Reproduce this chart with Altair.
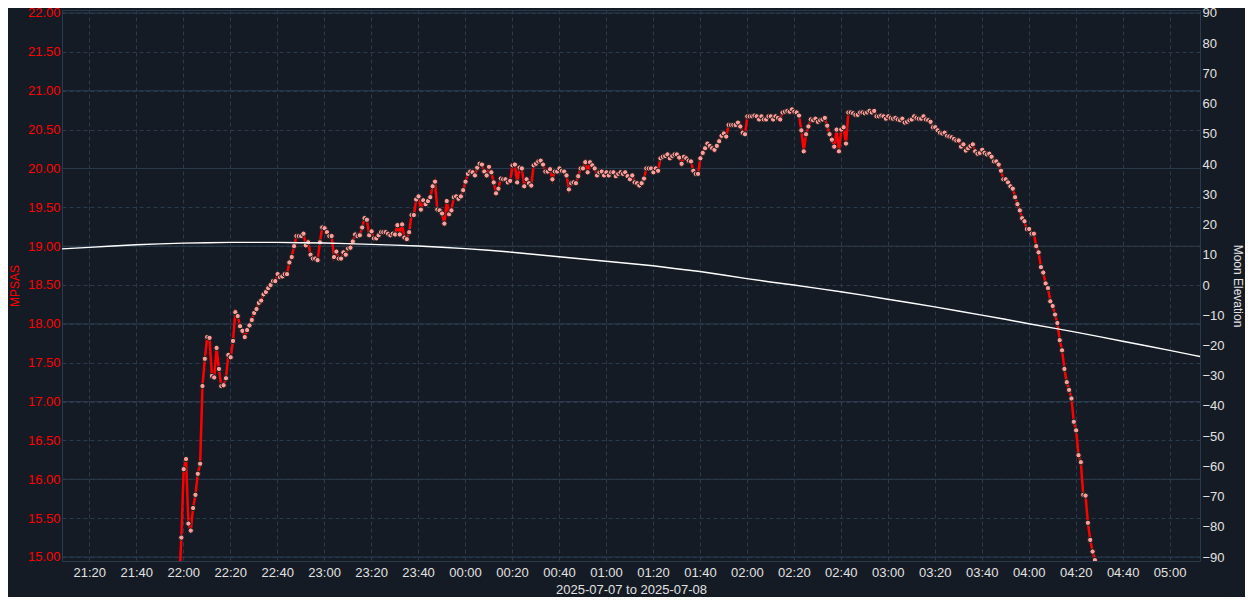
import altair as alt
import pandas as pd

# ---- data ----
first_reading = "2025-07-07 21:58:12"   # one reading per minute
mpsas = [
    14.58, 15.25, 16.13, 16.26, 15.43, 15.34, 15.63, 15.80, 16.07, 16.20,
    17.20, 17.55, 17.83, 17.82, 17.33, 17.31, 17.69, 17.42, 17.20, 17.21,
    17.30, 17.60, 17.57, 17.78, 18.15, 18.10, 17.97, 17.91, 17.83, 17.92,
    17.98, 18.05, 18.14, 18.19, 18.27, 18.30, 18.38, 18.41, 18.46, 18.50,
    18.55, 18.55, 18.64, 18.60, 18.61, 18.64, 18.64, 18.79, 18.86, 19.00,
    19.13, 19.13, 19.13, 19.16, 19.01, 19.05, 18.89, 18.84, 18.84, 18.82,
    19.05, 19.24, 19.23, 19.18, 19.13, 19.13, 18.86, 18.93, 18.84, 18.84,
    18.92, 18.89, 18.97, 18.98, 19.06, 19.15, 19.13, 19.14, 19.24, 19.36,
    19.34, 19.14, 19.19, 19.10, 19.10, 19.14, 19.18, 19.18, 19.18, 19.16,
    19.14, 19.16, 19.15, 19.27, 19.15, 19.28, 19.11, 19.09, 19.18, 19.40,
    19.40, 19.60, 19.64, 19.47, 19.59, 19.54, 19.58, 19.63, 19.77, 19.83,
    19.47, 19.46, 19.42, 19.29, 19.58, 19.41,
    19.46, 19.63, 19.64, 19.61, 19.64, 19.72, 19.83, 19.93, 19.96, 19.95,
    19.91, 20.01, 20.06, 20.05, 19.96, 19.91, 20.02, 19.95, 19.82, 19.68,
    19.74, 19.87, 19.86, 19.86, 19.82, 19.84, 20.04, 20.05, 19.82, 20.01,
    20.00, 19.77, 19.86, 19.81, 19.78, 20.04, 20.06, 20.09, 20.10, 20.05,
    19.96, 19.96, 19.99, 19.86, 19.96, 19.96, 20.00, 19.97, 19.96, 19.91,
    19.73, 19.81, 19.82, 19.81, 19.90, 20.00, 20.00, 20.08, 19.95, 20.08,
    20.04, 20.00, 19.91, 19.95, 19.96, 19.91, 19.95, 19.91, 19.95, 19.95,
    19.90, 19.93, 19.95, 19.93, 19.95, 19.90, 19.86, 19.91, 19.82, 19.81,
    19.78, 19.81, 19.87, 20.00, 20.00, 20.00, 19.95, 20.00, 19.97, 20.13,
    20.15, 20.16, 20.18, 20.13, 20.16, 20.18, 20.18, 20.14, 20.06, 20.15,
    20.13, 20.10, 20.09, 19.97, 19.93, 19.93,
    20.13, 20.20, 20.26, 20.32, 20.29, 20.26, 20.24, 20.29, 20.35, 20.42,
    20.45, 20.41, 20.56, 20.56, 20.56, 20.56, 20.59, 20.54, 20.46, 20.44,
    20.67, 20.67, 20.67, 20.68, 20.67, 20.63, 20.67, 20.63, 20.63, 20.67,
    20.67, 20.63, 20.67, 20.65, 20.63, 20.72, 20.73, 20.74, 20.73, 20.76,
    20.73, 20.72, 20.68, 20.49, 20.22, 20.44, 20.54, 20.63, 20.62, 20.64,
    20.60, 20.62, 20.63, 20.65, 20.55, 20.44, 20.37, 20.28, 20.50, 20.22,
    20.50, 20.53, 20.32, 20.72, 20.72, 20.71, 20.69, 20.69, 20.72, 20.72,
    20.71, 20.72, 20.74, 20.72, 20.74, 20.67, 20.67, 20.68, 20.67, 20.64,
    20.67, 20.65, 20.64, 20.65, 20.63, 20.62, 20.64, 20.59, 20.60, 20.62,
    20.63, 20.67, 20.65, 20.64, 20.64, 20.67, 20.63, 20.62, 20.60, 20.53,
    20.53, 20.49, 20.46, 20.45, 20.46, 20.42, 20.41,
    20.40, 20.38, 20.36, 20.36, 20.28, 20.31, 20.23, 20.26, 20.29, 20.31,
    20.22, 20.19, 20.20, 20.24, 20.20, 20.18, 20.19, 20.15, 20.09, 20.09,
    20.05, 19.97, 19.86, 19.86, 19.82, 19.77, 19.74, 19.63, 19.54, 19.46,
    19.36, 19.32, 19.22, 19.22, 19.16, 19.16, 19.00, 18.92, 18.73, 18.66,
    18.52, 18.46, 18.29, 18.23, 18.12, 18.01, 17.79, 17.66, 17.42, 17.25,
    17.15, 17.04,
    16.74, 16.63, 16.31, 16.22, 15.80, 15.79, 15.44, 15.22, 15.07, 14.96,
    14.70, 14.40,
]

moon_time = [
    "2025-07-07T21:08:23", "2025-07-07T21:20:00", "2025-07-07T21:30:00",
    "2025-07-07T21:40:00", "2025-07-07T21:50:00", "2025-07-07T22:00:00",
    "2025-07-07T22:10:00", "2025-07-07T22:20:00", "2025-07-07T22:30:00",
    "2025-07-07T22:40:00", "2025-07-07T22:50:00", "2025-07-07T23:00:00",
    "2025-07-07T23:10:00", "2025-07-07T23:20:00", "2025-07-07T23:30:00",
    "2025-07-07T23:40:00", "2025-07-07T23:50:00", "2025-07-08T00:00:00",
    "2025-07-08T00:10:00", "2025-07-08T00:20:00", "2025-07-08T00:30:00",
    "2025-07-08T00:40:00", "2025-07-08T00:50:00", "2025-07-08T01:00:00",
    "2025-07-08T01:10:00", "2025-07-08T01:20:00", "2025-07-08T01:30:00",
    "2025-07-08T01:40:00", "2025-07-08T01:50:00", "2025-07-08T02:00:00",
    "2025-07-08T02:10:00", "2025-07-08T02:20:00", "2025-07-08T02:30:00",
    "2025-07-08T02:40:00", "2025-07-08T02:50:00", "2025-07-08T03:00:00",
    "2025-07-08T03:10:00", "2025-07-08T03:20:00", "2025-07-08T03:30:00",
    "2025-07-08T03:40:00", "2025-07-08T03:50:00", "2025-07-08T04:00:00",
    "2025-07-08T04:10:00", "2025-07-08T04:20:00", "2025-07-08T04:30:00",
    "2025-07-08T04:40:00", "2025-07-08T04:50:00", "2025-07-08T05:00:00",
    "2025-07-08T05:10:00", "2025-07-08T05:12:56",
]
moon_elev = [
    11.95, 12.45, 12.9, 13.3, 13.6, 13.85, 14.0, 14.1, 14.1, 14.1,
    14.0, 13.9, 13.7, 13.45, 13.2, 12.9, 12.5, 12.05, 11.5, 10.85,
    10.1, 9.35, 8.6, 7.85, 7.1, 6.35, 5.4, 4.45, 3.3, 2.1,
    1.0, 0.0, -1.1, -2.25, -3.45, -4.7, -5.95, -7.25, -8.6, -9.95,
    -11.35, -12.8, -14.2, -15.6, -17.1, -18.6, -20.1, -21.65, -23.2, -23.65,
]

x_tick_times = [
    (7, 21, 20), (7, 21, 40), (7, 22, 0), (7, 22, 20), (7, 22, 40),
    (7, 23, 0), (7, 23, 20), (7, 23, 40), (8, 0, 0), (8, 0, 20),
    (8, 0, 40), (8, 1, 0), (8, 1, 20), (8, 1, 40), (8, 2, 0),
    (8, 2, 20), (8, 2, 40), (8, 3, 0), (8, 3, 20), (8, 3, 40),
    (8, 4, 0), (8, 4, 20), (8, 4, 40), (8, 5, 0),
]
mpsas_ticks = [15.0, 15.5, 16.0, 16.5, 17.0, 17.5, 18.0, 18.5, 19.0, 19.5,
               20.0, 20.5, 21.0, 21.5, 22.0]
mpsas_major = [15, 16, 17, 18, 19, 20, 21, 22]
moon_ticks = [-90, -80, -70, -60, -50, -40, -30, -20, -10, 0,
              10, 20, 30, 40, 50, 60, 70, 80, 90]
x_title = "2025-07-07 to 2025-07-08"

# ---- tables ----
times = pd.date_range(first_reading, periods=len(mpsas), freq="1min").strftime("%Y-%m-%dT%H:%M:%S")
sky = pd.DataFrame({"time": list(times), "mpsas": mpsas})
moon = pd.DataFrame({"time": moon_time, "elev": moon_elev})
major = pd.DataFrame({"mpsas": mpsas_major})

BG = "#151b24"
GRID = "#2a3b4e"
LIGHT = "#e2e2e2"
RED = "#ff0000"


def dt(d, h, m, s=0):
    return alt.DateTime(year=2025, month=7, date=d, hours=h, minutes=m, seconds=s)


x_scale = alt.Scale(domain=[dt(7, 21, 8, 23), dt(8, 5, 12, 56)])
x_axis = alt.Axis(
    format="%H:%M", values=[dt(d, h, m) for d, h, m in x_tick_times],
    grid=True, gridColor=GRID, gridDash=[4, 3], gridWidth=1,
    domain=False, ticks=False, tickSize=0, labelPadding=5,
    labelColor=LIGHT, labelFontSize=13, labelFlush=False, labelOverlap=False,
    titleColor=LIGHT, titleFontSize=13, titleFontWeight="normal", titlePadding=4,
)
x_enc = alt.X("time:T", title=x_title, scale=x_scale, axis=x_axis)

y_scale_sky = alt.Scale(domain=[14.9485, 22.0386], nice=False, zero=False)
y_axis_sky = alt.Axis(
    orient="left", values=mpsas_ticks, format=".2f", grid=True,
    gridColor=GRID, gridWidth=1, gridDash=[4, 3],
    domain=False, ticks=False, tickSize=0, labelPadding=2,
    labelColor=RED, labelFontSize=13, labelFlush=False,
    title="MPSAS", titleColor=RED, titleFontSize=12,
    titleFontWeight="normal", titlePadding=6,
)
y_sky = alt.Y("mpsas:Q", title="MPSAS", scale=y_scale_sky, axis=y_axis_sky)

major_rules = alt.Chart(major).mark_rule(color=GRID, strokeWidth=1).encode(y=y_sky)
sky_line = alt.Chart(sky).mark_line(color=RED, strokeWidth=2.5, clip=True).encode(x=x_enc, y=y_sky)
sky_pts = alt.Chart(sky).mark_point(
    shape="circle", filled=True, fill="#ff9d9d", stroke="#1a1a1a",
    strokeWidth=1, size=28, opacity=1, clip=True,
).encode(x=x_enc, y=y_sky)

moon_line = alt.Chart(moon).mark_line(color="#ffffff", strokeWidth=1.4).encode(
    x=x_enc,
    y=alt.Y(
        "elev:Q", title="Moon Elevation",
        scale=alt.Scale(domain=[-91.32, 90.99], nice=False, zero=False),
        axis=alt.Axis(
            orient="right", values=moon_ticks, grid=False, domain=False,
            ticks=False, tickSize=0, labelPadding=2, labelColor=LIGHT,
            labelFontSize=13, labelFlush=False, title="Moon Elevation",
            titleColor=LIGHT, titleFontSize=12, titleFontWeight="normal",
            titlePadding=6,
        ),
    ),
)

chart = (
    alt.layer(alt.layer(major_rules, sky_line, sky_pts), moon_line)
    .resolve_scale(y="independent")
    .properties(
        width=1138, height=551,
        padding={"left": 54, "top": 2, "right": 45, "bottom": 36},
        autosize=alt.AutoSizeParams(type="none"),
        background=BG,
    )
    .configure_view(stroke=GRID, strokeWidth=1, fill=BG)
    .configure_axis(labelFont="Liberation Sans", titleFont="Liberation Sans")
)

chart.save("out.html", embed_options={"renderer": "svg", "actions": False})
